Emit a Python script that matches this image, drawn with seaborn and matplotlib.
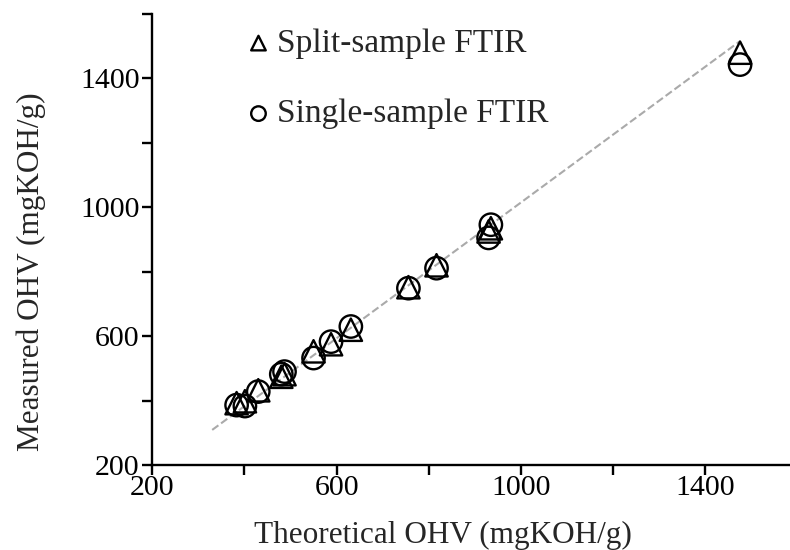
import numpy as np
import pandas as pd
import matplotlib
matplotlib.use('Agg')
import matplotlib.pyplot as plt
from matplotlib.ticker import MultipleLocator, FuncFormatter
import seaborn as sns

# values
split_x = [383, 401, 430, 480, 487, 550, 588, 631, 756, 817, 930, 935, 1476]
split_y = [392, 398, 432, 474, 482, 553, 575, 620, 752, 820, 925, 935, 1480]
single_x = [383, 401, 430, 480, 487, 550, 588, 631, 756, 817, 930, 935, 1476]
single_y = [386, 383, 428, 482, 490, 532, 583, 630, 749, 811, 905, 946, 1443]
trend_x = [330, 1476]
trend_y = [309, 1516]

labels = ['Split-sample FTIR', 'Single-sample FTIR']

sns.set_theme(style='ticks')
plt.rcParams['font.family'] = ['Liberation Serif', 'DejaVu Serif']

df = pd.concat([
    pd.DataFrame({'theo': split_x, 'meas': split_y, 'method': labels[0]}),
    pd.DataFrame({'theo': single_x, 'meas': single_y, 'method': labels[1]}),
])

fig = plt.figure(figsize=(7.9, 5.5), dpi=100)
ax = fig.add_axes([0.1928, 0.1545, 0.8163, 0.82])

sns.lineplot(x=trend_x, y=trend_y, ax=ax, color='#aaaaaa', linestyle='--',
             linewidth=1.5, zorder=1)

mk = {labels[0]: '^', labels[1]: 'o'}
for lab in labels:
    sns.scatterplot(data=df[df.method == lab], x='theo', y='meas', marker=mk[lab],
                    s=260, facecolors='none', edgecolor='black', linewidth=1.7,
                    ax=ax, label=lab, zorder=3)

ax.set_xlim(200, 1600)
ax.set_ylim(200, 1600)
for axis in (ax.xaxis, ax.yaxis):
    axis.set_major_locator(MultipleLocator(200))
    axis.set_major_formatter(FuncFormatter(lambda v, p: f'{int(v)}' if int(v) % 400 == 200 else ''))

sns.despine(ax=ax)
for sp in ['left', 'bottom']:
    ax.spines[sp].set_linewidth(1.7)
    ax.spines[sp].set_color('black')
ax.tick_params(direction='out', length=7, width=1.7, labelsize=21.5, colors='black', pad=2)
ax.tick_params(axis='x', pad=0)

ax.set_xlabel('Theoretical OHV (mgKOH/g)', fontsize=22.5)
ax.set_ylabel('Measured OHV (mgKOH/g)', fontsize=22.5)
ax.xaxis.set_label_coords(0.45, -0.125)
ax.yaxis.set_label_coords(-0.165, 0.428)

ax.legend(loc='upper left', bbox_to_anchor=(0.1, 1.02), frameon=False, fontsize=24,
          markerscale=0.65, handletextpad=0.0, handlelength=1.1, labelspacing=1.2,
          borderaxespad=0.3)

plt.savefig('out.png', dpi=100)
